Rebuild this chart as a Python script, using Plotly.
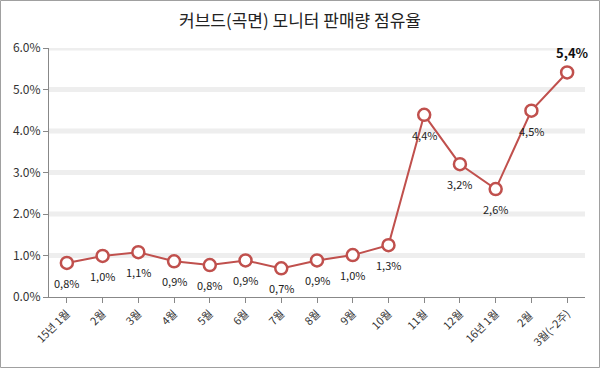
import plotly.graph_objects as go

categories = ["15년 1월", "2월", "3월", "4월", "5월", "6월", "7월", "8월", "9월",
              "10월", "11월", "12월", "16년 1월", "2월 ", "3월(~2주)"]
share = [0.82, 0.99, 1.08, 0.86, 0.77, 0.88, 0.69, 0.88, 1.01, 1.25, 4.39, 3.20, 2.60, 4.49, 5.41]
labels = ["0,8%", "1,0%", "1,1%", "0,9%", "0,8%", "0,9%", "0,7%", "0,9%", "1,0%",
          "1,3%", "4,4%", "3,2%", "2,6%", "4,5%", "5,4%"]
y_ticks = [0, 1, 2, 3, 4, 5, 6]
y_tick_text = ["0.0%", "1.0%", "2.0%", "3.0%", "4.0%", "5.0%", "6.0%"]

W, H = 600, 368
ML, MR, MT, MB = 49, 15, 48, 71
PW, PH = W - ML - MR, H - MT - MB

FONT = "Noto Sans CJK KR, Noto Sans, sans-serif"
RED = "#c0504d"

xs = list(range(len(categories)))

fig = go.Figure()
fig.add_trace(go.Scatter(
    x=xs, y=share,
    mode="lines+markers",
    line=dict(color=RED, width=2),
    marker=dict(size=12, color="white", line=dict(color=RED, width=2.5)),
    cliponaxis=False,
    hoverinfo="skip",
))

annotations = []
for i, (xv, yv, t) in enumerate(zip(xs, share, labels)):
    last = i == len(xs) - 1
    annotations.append(dict(
        x=xv, y=yv, xref="x", yref="y",
        text="<b>" + t + "</b>" if last else t,
        showarrow=False,
        yshift=20 if last else -20,
        xshift=5 if last else 0,
        font=dict(family=FONT, size=13 if last else 11, color="#111" if last else "#222"),
    ))

shapes = []
for v in y_ticks[1:]:
    shapes.append(dict(type="line", xref="paper", yref="y", x0=0, x1=1, y0=v, y1=v,
                       line=dict(color="#eeeeee", width=5), layer="below"))
shapes.append(dict(type="rect", xref="paper", yref="paper",
                   x0=-(ML - 0.5) / PW, x1=1 + (MR - 0.5) / PW,
                   y0=-(MB - 0.5) / PH, y1=1 + (MT - 0.5) / PH,
                   line=dict(color="#a0a0a0", width=1)))

fig.update_layout(
    width=W, height=H,
    margin=dict(l=ML, r=MR, t=MT, b=MB, autoexpand=False),
    paper_bgcolor="white", plot_bgcolor="white",
    showlegend=False,
    title=dict(text="커브드(곡면) 모니터 판매량 점유율", x=0.5, xref="container",
               y=1 - 21 / H, yref="container", yanchor="middle",
               font=dict(family=FONT, size=17, color="#222"), automargin=False),
    shapes=shapes,
    annotations=annotations,
    xaxis=dict(
        tickmode="array", tickvals=xs, ticktext=categories,
        range=[-0.5, len(categories) - 0.5],
        tickangle=-45, tickfont=dict(family=FONT, size=11, color="#333"),
        showline=True, linecolor="#888", linewidth=1,
        ticks="outside", ticklen=5, tickcolor="#888",
        showgrid=False, zeroline=False, automargin=False,
    ),
    yaxis=dict(
        tickmode="array", tickvals=y_ticks, ticktext=y_tick_text,
        range=[0, 6],
        tickfont=dict(family=FONT, size=12, color="#333"),
        showline=True, linecolor="#888", linewidth=1,
        ticks="outside", ticklen=5, tickcolor="#888",
        showgrid=False, zeroline=False, automargin=False,
    ),
)

fig.write_html("out.html", config={"displayModeBar": False},
               post_script="document.body.style.margin='0';")
